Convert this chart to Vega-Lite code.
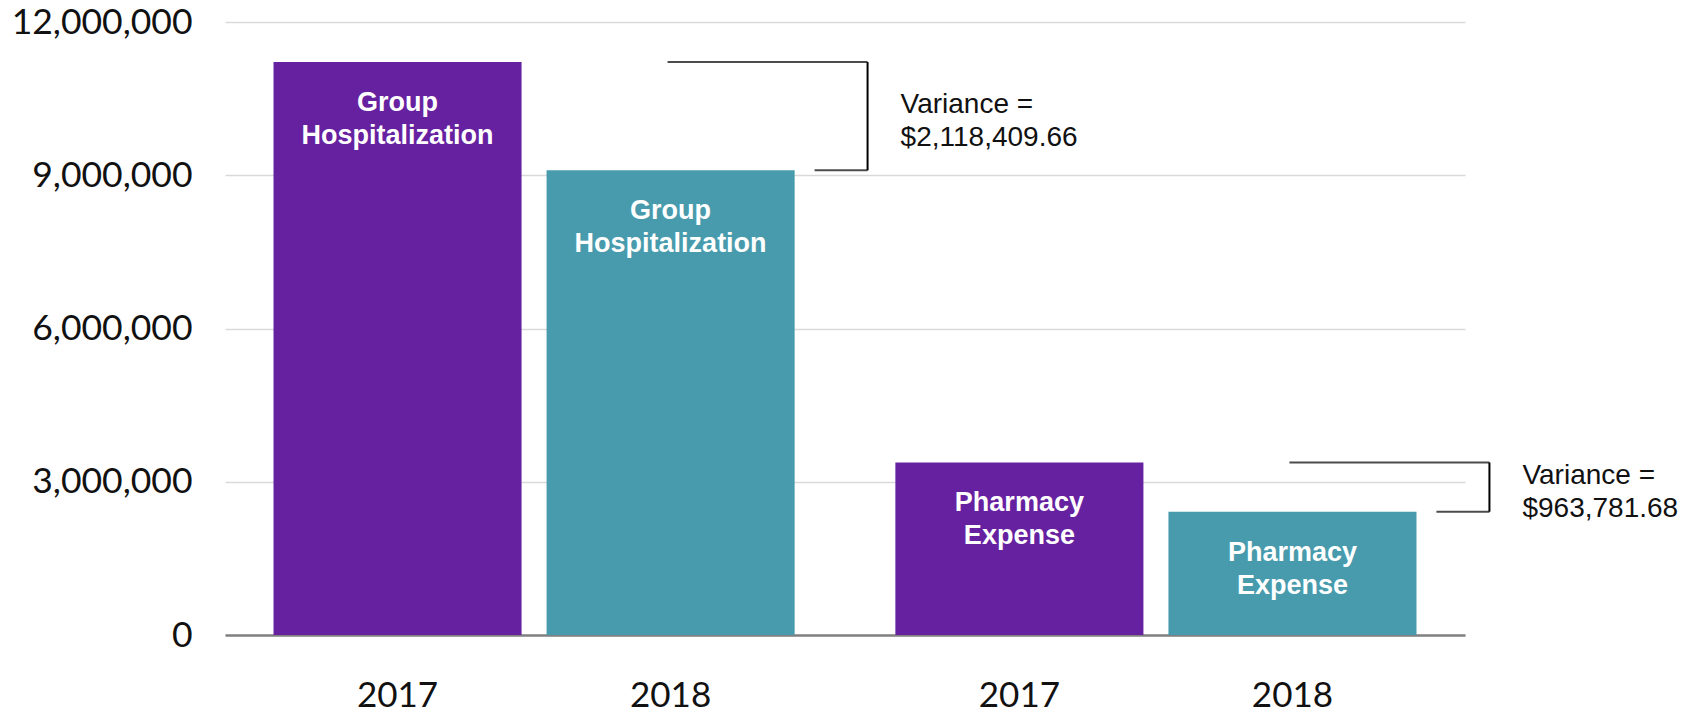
{
  "$schema": "https://vega.github.io/schema/vega-lite/v6.json",
  "width": 1240,
  "height": 613,
  "autosize": {"type": "none"},
  "padding": {"left": 225, "top": 22, "right": 237, "bottom": 79},
  "background": "white",
  "config": {"view": {"stroke": null}},
  "datasets": {
    "bars": [
      {"category": "Group Hospitalization", "year": "2017", "amount": 11215000, "label": "Group\nHospitalization"},
      {"category": "Group Hospitalization", "year": "2018", "amount": 9096590.34, "label": "Group\nHospitalization"},
      {"category": "Pharmacy Expense", "year": "2017", "amount": 3377000, "label": "Pharmacy\nExpense"},
      {"category": "Pharmacy Expense", "year": "2018", "amount": 2413218.32, "label": "Pharmacy\nExpense"}
    ],
    "notes": [
      {"category": "Group Hospitalization", "from": 11215000, "to": 9096590.34, "note": "Variance =\n$2,118,409.66"},
      {"category": "Pharmacy Expense", "from": 3377000, "to": 2413218.32, "note": "Variance =\n$963,781.68"}
    ]
  },
  "layer": [
    {
      "data": {"name": "bars"},
      "mark": {"type": "bar"},
      "encoding": {
        "x": {
          "field": "category",
          "type": "nominal",
          "sort": null,
          "scale": {"paddingInner": 0.162, "paddingOuter": 0.078},
          "axis": {"title": null, "labels": false, "ticks": false, "domain": true, "domainColor": "#808080", "domainWidth": 2.5, "grid": false}
        },
        "xOffset": {
          "field": "year",
          "type": "nominal",
          "sort": ["2017", "2018"],
          "scale": {"paddingInner": 0.0916, "paddingOuter": 0}
        },
        "y": {
          "field": "amount",
          "type": "quantitative",
          "scale": {"domain": [0, 12000000], "nice": false},
          "axis": {
            "title": null,
            "values": [0, 3000000, 6000000, 9000000, 12000000],
            "format": ",d",
            "domain": false,
            "ticks": false,
            "labelFont": "Lato",
            "labelFontSize": 35.5,
            "labelLimit": 400,
            "labelColor": "#111111",
            "labelPadding": 33,
            "gridColor": "#d9d9d9",
            "gridWidth": 1.5
          }
        },
        "color": {
          "field": "year",
          "type": "nominal",
          "scale": {"domain": ["2017", "2018"], "range": ["#6621A1", "#479BAD"]},
          "legend": null
        }
      }
    },
    {
      "data": {"name": "bars"},
      "mark": {"type": "text", "color": "white", "font": "Liberation Sans", "fontWeight": "bold", "fontSize": 27, "lineBreak": "\n", "lineHeight": 33, "baseline": "top", "align": "center", "dy": 28},
      "encoding": {
        "x": {"field": "category", "type": "nominal", "sort": null},
        "xOffset": {"field": "year", "type": "nominal", "sort": ["2017", "2018"]},
        "y": {"field": "amount", "type": "quantitative"},
        "text": {"field": "label"}
      }
    },
    {
      "data": {"name": "bars"},
      "mark": {"type": "text", "color": "#111111", "font": "Lato", "fontSize": 35, "baseline": "middle", "align": "center", "dy": 61},
      "encoding": {
        "x": {"field": "category", "type": "nominal", "sort": null},
        "xOffset": {"field": "year", "type": "nominal", "sort": ["2017", "2018"]},
        "y": {"datum": 0, "type": "quantitative"},
        "text": {"field": "year"}
      }
    },
    {
      "data": {"name": "notes"},
      "mark": {"type": "tick", "color": "black", "thickness": 2, "size": 200, "xOffset": 233.5},
      "encoding": {
        "x": {"field": "category", "type": "nominal", "sort": null},
        "y": {"field": "from", "type": "quantitative"}
      }
    },
    {
      "data": {"name": "notes"},
      "mark": {"type": "tick", "color": "black", "thickness": 2, "size": 53, "xOffset": 307},
      "encoding": {
        "x": {"field": "category", "type": "nominal", "sort": null},
        "y": {"field": "to", "type": "quantitative"}
      }
    },
    {
      "data": {"name": "notes"},
      "mark": {"type": "rule", "color": "black", "strokeWidth": 2, "xOffset": 333.5},
      "encoding": {
        "x": {"field": "category", "type": "nominal", "sort": null},
        "y": {"field": "from", "type": "quantitative"},
        "y2": {"field": "to"}
      }
    },
    {
      "data": {"name": "notes"},
      "transform": [
        {"fold": ["from", "to"], "as": ["end", "level"]},
        {"aggregate": [{"op": "mean", "field": "level", "as": "mid"}], "groupby": ["category", "note"]}
      ],
      "mark": {"type": "text", "color": "#111111", "font": "Liberation Sans", "fontSize": 28, "lineBreak": "\n", "lineHeight": 33, "baseline": "middle", "align": "left", "xOffset": 366.5, "dy": -11},
      "encoding": {
        "x": {"field": "category", "type": "nominal", "sort": null},
        "y": {"field": "mid", "type": "quantitative"},
        "text": {"field": "note"}
      }
    }
  ]
}
